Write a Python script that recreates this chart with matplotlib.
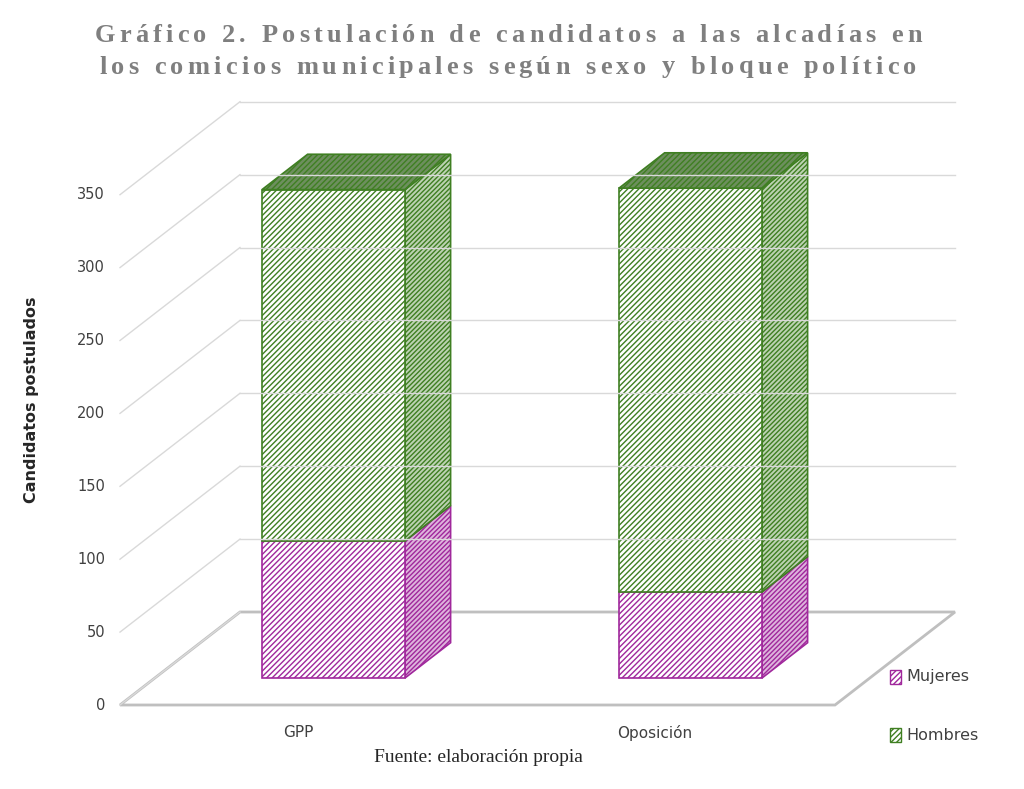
import matplotlib
matplotlib.use("Agg")
import matplotlib.pyplot as plt
from matplotlib.patches import Polygon
import matplotlib as mpl

categories = ["GPP", "Oposición"]
mujeres = [94, 59]
hombres = [241, 277]
ticks = [0, 50, 100, 150, 200, 250, 300, 350]

mpl.rcParams["hatch.linewidth"] = 1.0

fig = plt.figure(figsize=(10.24, 7.89), dpi=100)
ax = fig.add_axes([0, 0, 1, 1])
ax.set_xlim(0, 1024)
K = 1.458  # pixels per unit
ax.set_ylim(-(789 - 705) / K, 705 / K)
ax.axis("off")

# oblique depth: d in [0,1] -> (dx px, dy units)
DX, DY = 120, 93 / K
def P(x, v, d):
    return (x + d * DX, v + d * DY)

x0, x1 = 120, 835
top = 350
# side wall gridlines and back wall gridlines
for t in ticks:
    ax.plot([x0, x0 + DX], [t, t + DY], color="#d9d9d9", lw=1)
    if t > 0:
        ax.plot([x0 + DX, x1 + DX], [t + DY, t + DY], color="#d9d9d9", lw=1)
    ax.text(105, t, str(t), ha="right", va="center", fontsize=10.5, color="#404040")
# floor
ax.add_patch(Polygon([P(x0, 0, 0), P(x1, 0, 0), P(x1, 0, 1), P(x0, 0, 1)],
                     closed=True, fill=False, ec="#bfbfbf", lw=2))

d0, d1 = 0.29, 0.67
bx = [262, 619]
bw = 143
mag, grn = "#a0289c", "#3f7f22"
for i, c in enumerate(categories):
    segs = [(0, mujeres[i], mag), (mujeres[i], mujeres[i] + hombres[i], grn)]
    xa, xb = bx[i] - d0 * DX, bx[i] - d0 * DX + bw
    for lo, hi, col in segs:
        front = [P(xa, lo, d0), P(xb, lo, d0), P(xb, hi, d0), P(xa, hi, d0)]
        side = [P(xb, lo, d0), P(xb, lo, d1), P(xb, hi, d1), P(xb, hi, d0)]
        ax.add_patch(Polygon(side, closed=True, fc="#ffffff", ec=col, hatch="///////", lw=1.2))
        ax.add_patch(Polygon(side, closed=True, fc=col, alpha=0.35, ec="none"))
        ax.add_patch(Polygon(front, closed=True, fc="white", ec=col, hatch="//////", lw=1.2))
    hi = mujeres[i] + hombres[i]
    topf = [P(xa, hi, d0), P(xb, hi, d0), P(xb, hi, d1), P(xa, hi, d1)]
    ax.add_patch(Polygon(topf, closed=True, fc="#6d8f5e", ec=grn, hatch="//////", lw=1.2))
    ax.text(bx[i] + 36, -19, c, ha="center", va="center", fontsize=11, color="#404040")

# legend
for lab, col, y in [("Mujeres", mag, 677), ("Hombres", grn, 735)]:
    yv = (705 - y) / K
    ax.add_patch(Polygon([(890, yv - 4.5), (901, yv - 4.5), (901, yv + 4.5), (890, yv + 4.5)],
                         closed=True, fc="white", ec=col, hatch="//////", lw=1))
    ax.text(906, yv, lab, ha="left", va="center", fontsize=11.5, color="#404040")

ax.text(32, 400 and (705 - 400) / K, "Candidatos postulados", rotation=90, ha="center",
        va="center", fontsize=11.5, fontweight="bold", color="#262626")
ax.text(478, (705 - 757) / K, "Fuente: elaboración propia", ha="center", va="center",
        fontsize=14, family="Liberation Serif", color="#262626")

# title with letter spacing
fig.canvas.draw()
r = fig.canvas.get_renderer()
def spaced(s, cx, py, sp=4.2):
    kw = dict(fontsize=19, fontweight="bold", family="Liberation Serif", color="#7f7f7f")
    ws = []
    for ch in s:
        t = fig.text(0, 0, ch if ch != " " else "n", **kw)
        w = t.get_window_extent(r).width
        t.remove()
        ws.append((w * 0.5 if ch == " " else w) + sp)
    x = cx - sum(ws) / 2
    for ch, w in zip(s, ws):
        if ch != " ":
            fig.text(x / 1024, 1 - py / 789, ch, va="center", **kw)
        x += w
spaced("Gráfico 2. Postulación de candidatos a las alcadías en", 510, 36)
spaced("los comicios municipales según sexo y bloque político", 510, 67)

fig.savefig("out.png", dpi=100)
